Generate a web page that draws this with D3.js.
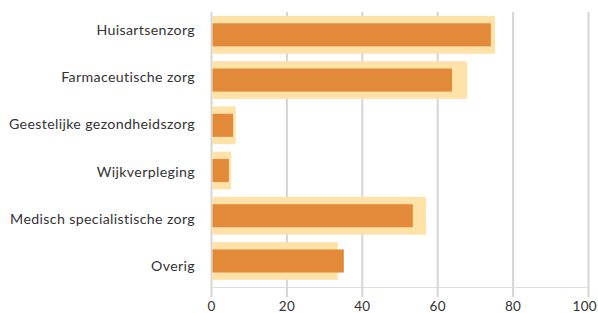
<!DOCTYPE html>
<html><head><meta charset="utf-8">
<script src="https://cdn.jsdelivr.net/npm/d3@7"></script>
<style>body{margin:0;background:#fff}svg{display:block}text{font-family:Lato,"Open Sans",sans-serif}</style>
</head><body><svg id="c" width="598" height="313"></svg>
<script>
const categories = ["Huisartsenzorg","Farmaceutische zorg","Geestelijke gezondheidszorg","Wijkverpleging","Medisch specialistische zorg","Overig"];
const backValues = [75.2, 67.8, 6.4, 5.2, 56.9, 33.5];
const frontValues = [74.1, 63.8, 5.7, 4.6, 53.4, 35.1];
const xTicks = [0, 20, 40, 60, 80, 100];

const svg = d3.select("#c");
const x = d3.scaleLinear().domain([0, 100]).range([211.5, 588.5]);
const y = d3.scaleBand().domain(categories).range([12.2, 283.6]).padding(0);
const yLabel = d3.scalePoint().domain(categories).range([35, 271]);
const step = y.bandwidth();
const backH = step * 0.835, frontH = step * 0.51;

svg.append("g").selectAll("line").data(xTicks).join("line")
  .attr("x1", d => x(d)).attr("x2", d => x(d))
  .attr("y1", 12).attr("y2", 297)
  .attr("stroke", "#d5d5d5").attr("stroke-width", 2);
svg.append("line").attr("x1", x(0)).attr("x2", x(100)).attr("y1", 287.5).attr("y2", 287.5)
  .attr("stroke", "#dddddd").attr("stroke-width", 1);

svg.append("g").selectAll("rect").data(categories).join("rect")
  .attr("x", x(0) + 1).attr("y", (d) => y(d) + step/2 - backH/2)
  .attr("width", (d,i) => x(backValues[i]) - x(0) - 1).attr("height", backH)
  .attr("fill", "#fee2a8");
svg.append("g").selectAll("rect").data(categories).join("rect")
  .attr("x", x(0) + 1).attr("y", (d) => y(d) + step/2 - frontH/2)
  .attr("width", (d,i) => x(frontValues[i]) - x(0) - 1).attr("height", frontH)
  .attr("fill", "#e2893a");

svg.append("g").selectAll("text").data(categories).join("text")
  .attr("x", 195).attr("y", d => yLabel(d))
  .attr("text-anchor", "end").attr("font-size", 14.2).attr("letter-spacing", 0.35).attr("fill", "#333")
  .text(d => d);
const last = xTicks[xTicks.length - 1];
svg.append("g").selectAll("text").data(xTicks).join("text")
  .attr("x", d => d === last ? 597 : x(d)).attr("y", 310.5)
  .attr("text-anchor", d => d === last ? "end" : "middle")
  .attr("font-size", 13.5).attr("letter-spacing", 0.3).attr("fill", "#333")
  .text(d => d);
</script></body></html>
